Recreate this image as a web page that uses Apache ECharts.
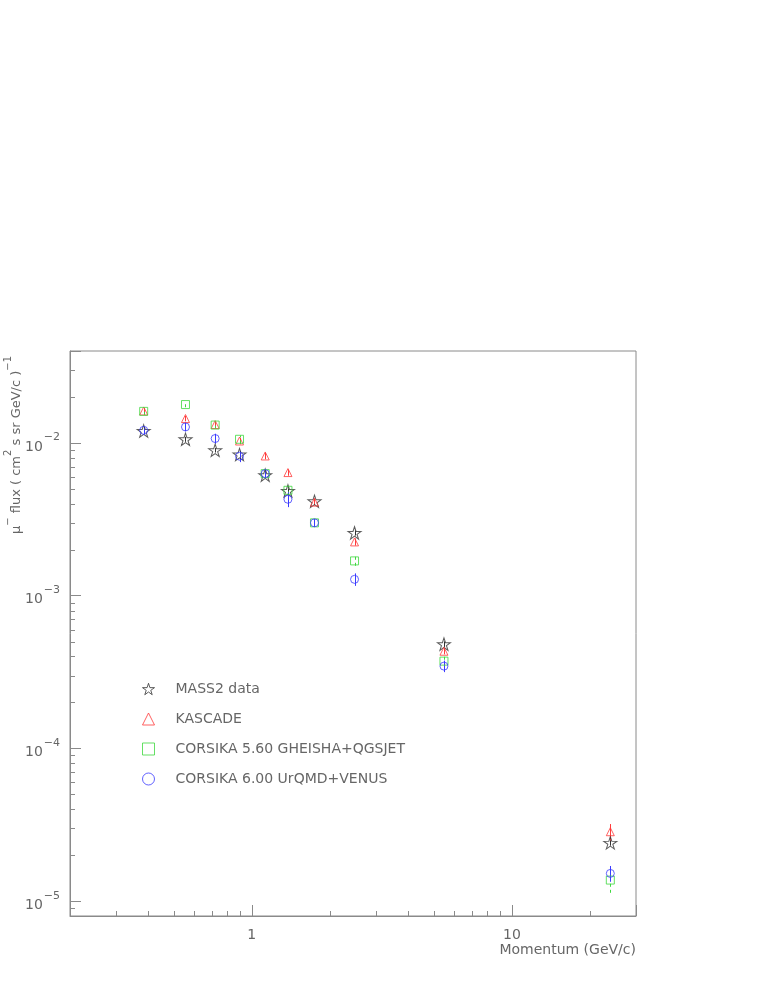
<!DOCTYPE html>
<html>
<head>
<meta charset="utf-8">
<title>mu- flux vs momentum</title>
<script src="https://cdn.jsdelivr.net/npm/echarts@6/dist/echarts.min.js"></script>
<style>
  html, body { margin: 0; padding: 0; background: #fff; }
  #chart { width: 763px; height: 987px; }
</style>
</head>
<body>
<div id="chart"></div>
<script>
  // momentum bins (GeV/c)
  const momentum = [0.384, 0.556, 0.723, 0.897, 1.126, 1.377, 1.742, 2.483, 5.48, 23.9];

  // mu- flux, one array per data set
  const mass2Flux   = [0.01198, 0.01057, 0.00896, 0.0084, 0.00615, 0.00485, 0.00415, 0.002576, 4.82e-4, 2.41e-5];
  const kascadeFlux = [0.0162, 0.01445, 0.0132, 0.0103, 0.00822, 0.0064, 0.0041, 0.00225, 4.33e-4, 2.85e-5];
  const gheishaFlux = [0.0161, 0.01784, 0.0131, 0.01057, 0.0063, 0.0049, 0.003, 0.00169, 3.73e-4, 1.375e-5];
  const urqmdFlux   = [0.0121, 0.01273, 0.01069, 0.00819, 0.0063, 0.00428, 0.003, 0.00128, 3.46e-4, 1.52e-5];

  // error bars (half length)
  const mass2Err   = [0.0004, 0.0004, 0.0003, 0.0003, 0.0002, 0.0002, 0.00015, 0.0001, 2e-5, 1e-6];
  const kascadeErr = [0.0008, 0.0006, 0.0006, 0.0005, 0.0004, 0.0003, 0.0002, 0.00012, 2e-5, 3.5e-6];
  const gheishaErr = [0.0008, 0.0007, 0.0007, 0.0006, 0.0004, 0.0003, 0.00018, 0.00012, 2.5e-5, 2.4e-6];
  const urqmdErr   = [0.0007, 0.0008, 0.0008, 0.0007, 0.0004, 0.00048, 0.00018, 0.00012, 3e-5, 1.8e-6];

  const seriesNames = ['MASS2 data', 'KASCADE', 'CORSIKA 5.60 GHEISHA+QGSJET', 'CORSIKA 6.00 UrQMD+VENUS'];

  // minor tick values of the log axes
  const xMinorTicks = [0.3, 0.4, 0.5, 0.6, 0.7, 0.8, 0.9, 2, 3, 4, 5, 6, 7, 8, 9, 20];
  const yMinorTicks = [9e-6,
    2e-5, 3e-5, 4e-5, 5e-5, 6e-5, 7e-5, 8e-5, 9e-5,
    2e-4, 3e-4, 4e-4, 5e-4, 6e-4, 7e-4, 8e-4, 9e-4,
    2e-3, 3e-3, 4e-3, 5e-3, 6e-3, 7e-3, 8e-3, 9e-3,
    2e-2, 3e-2];

  const X_MIN = 0.2, X_MAX = 30;
  const Y_MIN = 8e-6, Y_MAX = 4e-2;
  const AXIS_COLOR = '#8a8a8a';
  const TEXT_COLOR = '#666';
  const FONT = 'DejaVu Sans';

  const STAR = 'path://M50 0 L61.2 34.5 L97.6 34.5 L68.2 55.9 L79.4 90.5 L50 69.1 L20.6 90.5 L31.8 55.9 L2.4 34.5 L38.8 34.5 Z';

  let myChart = echarts.init(document.getElementById('chart'));

  function pointSeries(name, ys, symbol, size, color) {
    return {
      name: name,
      type: 'scatter',
      symbol: symbol,
      symbolSize: size,
      data: momentum.map((x, i) => [x, ys[i]]),
      itemStyle: {color: 'transparent', borderColor: color, borderWidth: 1},
      emphasis: {disabled: true},
      z: 5
    };
  }

  function errorSeries(name, ys, errs, color, dashed) {
    return {
      name: name + ' err',
      type: 'custom',
      silent: true,
      z: 4,
      data: momentum.map((x, i) => [x, ys[i] - errs[i], ys[i] + errs[i]]),
      encode: {x: 0, y: [1, 2]},
      renderItem: function (params, api) {
        let lo = api.coord([api.value(0), api.value(1)]);
        let hi = api.coord([api.value(0), api.value(2)]);
        let x = Math.round(lo[0]) + 0.5;
        return {
          type: 'line',
          shape: {x1: x, y1: lo[1], x2: x, y2: hi[1]},
          style: {stroke: color, lineWidth: 1, lineDash: dashed ? [3, 3] : null}
        };
      }
    };
  }

  // small ticks, drawn from the axes' own scales
  function minorTickSeries(values, dir, len) {
    return {
      type: 'custom',
      silent: true,
      z: 3,
      data: values.map(v => dir === 'x' ? [v, Y_MIN] : [X_MIN, v]),
      renderItem: function (params, api) {
        let p = api.coord([api.value(0), api.value(1)]);
        let shape;
        if (dir === 'x') {
          let x = Math.round(p[0]) + 0.5;
          shape = {x1: x, y1: p[1], x2: x, y2: p[1] - len};
        } else {
          let y = Math.round(p[1]) + 0.5;
          shape = {x1: p[0], y1: y, x2: p[0] + len, y2: y};
        }
        return {type: 'line', shape: shape, style: {stroke: AXIS_COLOR, lineWidth: 1}};
      }
    };
  }

  function decadeExp(v) {
    let e = Math.round(Math.log10(v));
    return Math.abs(v / Math.pow(10, e) - 1) < 1e-6 ? e : null;
  }

  let option = {
    animation: false,
    textStyle: {fontFamily: FONT},
    grid: {
      left: 70, top: 351, right: 127, bottom: 71,
      show: true, borderColor: AXIS_COLOR, borderWidth: 1
    },
    legend: {
      orient: 'vertical',
      left: 142,
      top: 682,
      padding: 0,
      itemWidth: 12,
      itemHeight: 12,
      itemGap: 16,
      selectedMode: false,
      data: seriesNames,
      itemStyle: {borderWidth: 1},
      textStyle: {fontSize: 14, color: TEXT_COLOR, fontFamily: FONT, lineHeight: 14, padding: [0, 0, 0, 16]}
    },
    xAxis: {
      type: 'log',
      logBase: 10,
      min: X_MIN,
      max: X_MAX,
      axisLine: {lineStyle: {color: AXIS_COLOR}},
      axisTick: {inside: true, length: 11, lineStyle: {color: AXIS_COLOR}},
      splitLine: {show: false},
      axisLabel: {
        fontSize: 14, color: TEXT_COLOR, margin: 12,
        formatter: function (v) {
          let e = decadeExp(v);
          return e === null ? '' : String(Math.round(Math.pow(10, e)));
        }
      }
    },
    yAxis: {
      type: 'log',
      logBase: 10,
      min: Y_MIN,
      max: Y_MAX,
      axisLine: {lineStyle: {color: AXIS_COLOR}},
      axisTick: {inside: true, length: 11, lineStyle: {color: AXIS_COLOR}},
      splitLine: {show: false},
      axisLabel: {
        margin: 10,
        formatter: function (v) {
          let e = decadeExp(v);
          return e === null ? '' : '{b|10}{e|\u2212' + Math.abs(e) + '}';
        },
        rich: {
          b: {fontSize: 14, color: TEXT_COLOR, verticalAlign: 'bottom', lineHeight: 22},
          e: {fontSize: 11, color: TEXT_COLOR, verticalAlign: 'top', lineHeight: 22, padding: [0, 0, 0, 1]}
        }
      }
    },
    graphic: [
      {
        type: 'text',
        x: 13, y: 445,
        rotation: Math.PI / 2,
        style: {
          text: '{t|\u03bc}{s|\u2212}{t| flux ( cm}{s|2}{t| s sr GeV/c )}{s|\u22121}',
          align: 'center',
          verticalAlign: 'middle',
          fill: TEXT_COLOR,
          rich: {
            t: {fontSize: 13, fontFamily: FONT, fill: TEXT_COLOR, verticalAlign: 'bottom', lineHeight: 20},
            s: {fontSize: 10, fontFamily: FONT, fill: TEXT_COLOR, verticalAlign: 'top', lineHeight: 20}
          }
        }
      },
      {
        type: 'text',
        x: 636, y: 950,
        style: {
          text: 'Momentum (GeV/c)',
          align: 'right',
          verticalAlign: 'middle',
          fontSize: 14,
          fontFamily: FONT,
          fill: TEXT_COLOR
        }
      }
    ],
    series: [
      pointSeries(seriesNames[0], mass2Flux, STAR, [13, 12.4], '#333'),
      pointSeries(seriesNames[1], kascadeFlux, 'triangle', 8, '#ff3b3b'),
      pointSeries(seriesNames[2], gheishaFlux, 'rect', 8, '#3fd83f'),
      pointSeries(seriesNames[3], urqmdFlux, 'circle', 8, '#3b3bff'),
      errorSeries(seriesNames[0], mass2Flux, mass2Err, '#333', false),
      errorSeries(seriesNames[1], kascadeFlux, kascadeErr, '#ff3b3b', false),
      errorSeries(seriesNames[2], gheishaFlux, gheishaErr, '#3fd83f', true),
      errorSeries(seriesNames[3], urqmdFlux, urqmdErr, '#3b3bff', false),
      minorTickSeries(xMinorTicks, 'x', 5),
      minorTickSeries(yMinorTicks, 'y', 5)
    ]
  };

  myChart.setOption(option);
</script>
</body>
</html>
